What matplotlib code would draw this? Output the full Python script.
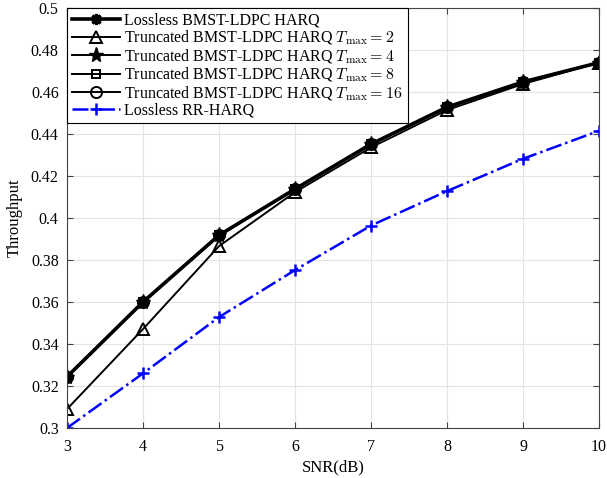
import numpy as np
import matplotlib.pyplot as plt

plt.rcParams['font.family'] = ['Liberation Serif', 'DejaVu Serif']
plt.rcParams['mathtext.fontset'] = 'cm'

# data
snr = [3, 4, 5, 6, 7, 8, 9, 10]
lossless_bmst = [0.3244, 0.3600, 0.3918, 0.4138, 0.4352, 0.4528, 0.4648, 0.4740]
trunc_t2 = [0.3090, 0.3471, 0.3866, 0.4123, 0.4336, 0.4514, 0.4638, 0.4740]
trunc_t4 = [0.3244, 0.3600, 0.3917, 0.4137, 0.4351, 0.4527, 0.4647, 0.4740]
trunc_t8 = [0.3244, 0.3600, 0.3917, 0.4137, 0.4351, 0.4527, 0.4647, 0.4740]
trunc_t16 = [0.3244, 0.3600, 0.3918, 0.4138, 0.4352, 0.4528, 0.4648, 0.4740]
lossless_rr = [0.3000, 0.3260, 0.3528, 0.3752, 0.3964, 0.4128, 0.4282, 0.4415]

fig = plt.figure(figsize=(6.07, 4.78), dpi=100)
ax = fig.add_axes([67/607, 50/478, 532/607, 420/478])

ax.plot(snr, lossless_bmst, color='k', lw=2.6, marker=(8, 2, 0), ms=8, mew=2.2,
        label='Lossless BMST-LDPC HARQ')
ax.plot(snr, trunc_t2, color='k', lw=1.4, marker='^', ms=8, mfc='none', mew=1.4,
        label=r'Truncated BMST-LDPC HARQ $T_{\max}=2$')
ax.plot(snr, trunc_t4, color='k', lw=1.4, marker='*', ms=11, mew=1,
        label=r'Truncated BMST-LDPC HARQ $T_{\max}=4$')
ax.plot(snr, trunc_t8, color='k', lw=1.4, marker='s', ms=6, mfc='none', mew=1.4,
        label=r'Truncated BMST-LDPC HARQ $T_{\max}=8$')
ax.plot(snr, trunc_t16, color='k', lw=1.4, marker='o', ms=8, mfc='none', mew=1.4,
        label=r'Truncated BMST-LDPC HARQ $T_{\max}=16$')
ax.plot(snr, lossless_rr, color='b', lw=1.8, ls='-.', marker='+', ms=9, mew=1.8,
        label='Lossless RR-HARQ')

ax.set_xlim(3, 10)
ax.set_ylim(0.3, 0.5)
ax.set_xticks(snr)
ax.set_yticks(np.arange(0.3, 0.501, 0.02))
ax.set_yticklabels(['0.3', '0.32', '0.34', '0.36', '0.38', '0.4', '0.42', '0.44', '0.46', '0.48', '0.5'])
ax.grid(True, color='#e3e3e3', lw=0.8)
ax.set_axisbelow(True)
ax.tick_params(direction='in', top=True, right=True, labelsize=11.5, length=4, color='#444444')
ax.tick_params(axis='x', pad=8)
ax.tick_params(axis='y', pad=6)
for s in ax.spines.values():
    s.set_color('#444444')
ax.set_xlabel('SNR(dB)', fontsize=12, labelpad=3)
ax.set_ylabel('Throughput', fontsize=12, labelpad=6)

leg = ax.legend(loc='upper left', fontsize=11.5, handlelength=3.0, handletextpad=0.3,
                borderaxespad=0, borderpad=0.3, labelspacing=0.0, fancybox=False,
                framealpha=1)
leg.get_frame().set_edgecolor('k')
leg.get_frame().set_linewidth(0.8)

fig.savefig('out.png', dpi=100)
